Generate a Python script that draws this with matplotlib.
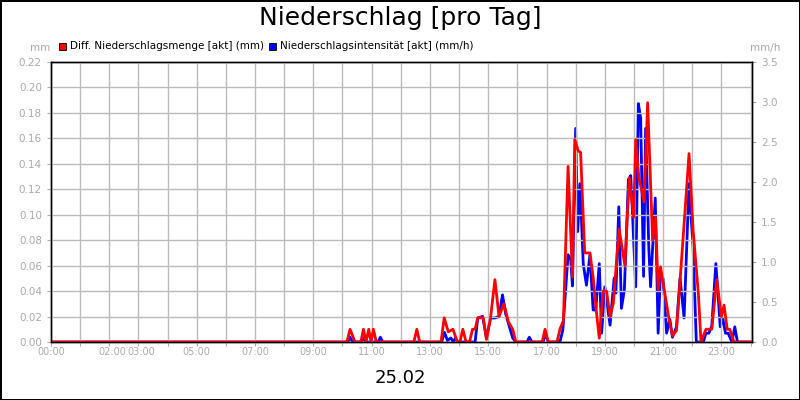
import matplotlib
matplotlib.use("Agg")
import matplotlib.pyplot as plt
from matplotlib.patches import Rectangle

# Diff. Niederschlagsmenge (mm), Stunden seit 00:00
red_h = [0, 10.15, 10.26, 10.43, 10.63, 10.72, 10.81, 10.9, 10.98, 11.06, 11.16,
         12.45, 12.55, 12.65, 13.38, 13.49, 13.63, 13.79, 13.94, 14.03, 14.13, 14.24,
         14.36, 14.46, 14.55, 14.64, 14.83, 14.94, 15.08, 15.23, 15.37, 15.54, 15.69,
         15.84, 15.95, 16.85, 16.95, 17.06, 17.36, 17.46, 17.58, 17.74, 17.89, 17.97,
         18.09, 18.17, 18.31, 18.49, 18.6, 18.72, 18.81, 18.94, 19.06, 19.18, 19.29,
         19.49, 19.69, 19.84, 19.99, 20.06, 20.17, 20.35, 20.47, 20.64, 20.74, 20.83,
         20.91, 21.06, 21.21, 21.32, 21.46, 21.69, 21.89, 22.03, 22.21, 22.3, 22.47,
         22.67, 22.84, 23.0, 23.09, 23.2, 23.29, 23.43, 24.05]
red_v = [0, 0, .01, 0, 0, .01, 0, .01, 0, .01, 0,
         0, .01, 0, 0, .019, .008, .01, 0, 0, .01, 0,
         0, .01, .01, .019, .019, .002, .019, .049, .02, .03, .016,
         .01, 0, 0, .01, 0, 0, .01, .017, .138, .051, .159,
         .15, .149, .07, .07, .051, .022, .003, .04, .04, .02, .03,
         .089, .06, .129, .098, .159, .129, .11, .188, .08, .098, .041,
         .059, .038, .017, .005, .009, .083, .148, .088, .038, 0, .01,
         .01, .049, .02, .029, .01, .01, 0, 0]

# Niederschlagsintensitaet (mm/h)
blue_h = [0, 10.18, 10.26, 10.35, 10.64, 10.72, 10.8, 11.22, 11.3, 11.38,
          13.4, 13.5, 13.6, 13.72, 13.8, 13.88, 13.96, 14.55, 14.64, 14.81, 14.94,
          15.08, 15.23, 15.37, 15.49, 15.6, 15.84, 15.95, 16.33, 16.41, 16.5,
          16.88, 16.96, 17.07, 17.46, 17.56, 17.74, 17.83, 17.89, 18.0, 18.07, 18.15,
          18.26, 18.37, 18.49, 18.6, 18.69, 18.81, 18.89, 19.0, 19.18, 19.32, 19.38,
          19.48, 19.57, 19.67, 19.81, 19.89, 19.94, 20.06, 20.15, 20.23, 20.33, 20.4,
          20.51, 20.57, 20.73, 20.83, 20.91, 21.0, 21.12, 21.23, 21.32, 21.46, 21.58,
          21.72, 21.89, 22.03, 22.14, 22.38, 22.47, 22.57, 22.67, 22.81, 22.96, 23.05,
          23.14, 23.23, 23.36, 23.46, 23.55, 24.05]
blue_v = [0, 0, .06, 0, 0, .05, 0, 0, .06, 0,
          0, .12, .02, .05, 0, .05, 0, 0, .3, .32, .05,
          .3, .3, .32, .59, .35, .05, 0, 0, .06, 0,
          0, .09, 0, 0, .15, 1.09, 1.03, .7, 2.67, 1.38, 1.98,
          .98, .71, 1.09, .4, .4, .98, .11, .69, .21, .8, .61,
          1.69, .42, .65, 2.03, 2.08, 1.69, .69, 2.98, 2.8, .82, 2.67,
          1.17, .69, 1.8, .11, .88, .79, .11, .29, .06, .19, .8,
          .3, 1.98, 1.17, 0, 0, .11, .11, .2, .98, .19, .29,
          .11, .11, 0, .19, 0, 0]

tick_pos = [0, 2.1, 3.1, 5, 7, 9, 11, 13, 15, 17, 19, 21, 23]
tick_lab = ["00:00", "02:00", "03:00", "05:00", "07:00", "09:00", "11:00",
            "13:00", "15:00", "17:00", "19:00", "21:00", "23:00"]

fig = plt.figure(figsize=(8, 4), dpi=100)
fig.patch.set_edgecolor("black"); fig.patch.set_linewidth(2)
ax = fig.add_axes([51/800, 1-342/400, 701/800, 280/400])
ax2 = ax.twinx()
ax.set_zorder(ax2.get_zorder() + 1); ax.patch.set_visible(False)

ax2.plot(blue_h, blue_v, color="#0000ff", lw=2)
ax.plot(red_h, red_v, color="#ff0000", lw=2)

ax.set_xlim(0, 24.05)
ax.set_ylim(0, 0.22); ax2.set_ylim(0, 3.5)
ax.set_yticks([i*0.02 for i in range(12)])
ax.set_yticklabels(["%.2f" % (i*0.02) for i in range(12)])
ax2.set_yticks([i*0.5 for i in range(8)])
ax2.set_yticklabels(["%.1f" % (i*0.5) for i in range(8)])
ax.set_xticks(range(25))
ax.set_xticklabels(["" for _ in range(25)])
for p, l in zip(tick_pos, tick_lab):
    ax.text(p, -0.004, l, ha="center", va="top", fontsize=7, color="#aaaaaa")
ax.grid(True, color="#bbbbbb", lw=1)
for a in (ax, ax2):
    a.tick_params(labelsize=7.5, labelcolor="#aaaaaa", color="#aaaaaa", length=3)
    for s in a.spines.values():
        s.set_linewidth(1)

fig.text(0.5, 0.955, "Niederschlag [pro Tag]", ha="center", va="center", fontsize=18)
fig.text(0.5, 0.055, "25.02", ha="center", va="center", fontsize=13)
fig.text(40/800, 1-48/400, "mm", ha="center", va="center", fontsize=7.5, color="#aaaaaa")
fig.text(765/800, 1-48/400, "mm/h", ha="center", va="center", fontsize=7.5, color="#aaaaaa")
for x0, col, lab in [(59, "#ff0000", "Diff. Niederschlagsmenge [akt] (mm)"),
                     (269, "#0000ff", "Niederschlagsintensität [akt] (mm/h)")]:
    fig.patches.append(Rectangle((x0/800, 1-50/400), 7/800, 7/400, transform=fig.transFigure,
                                 facecolor=col, edgecolor="black", lw=0.6))
    fig.text((x0+11)/800, 1-46/400, lab, va="center", fontsize=7.5)

fig.savefig("out.png", dpi=100)
